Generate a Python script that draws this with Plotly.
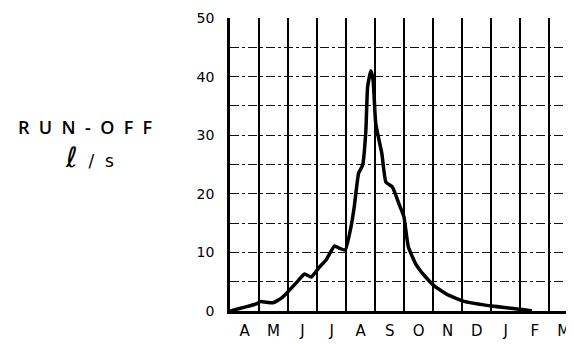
import plotly.graph_objects as go

# months after 1 April (0 = start of April), runoff in l/s
month_pos = [0.0, 0.46, 0.91, 1.05, 1.48, 1.77, 2.0, 2.28, 2.57, 2.8, 3.08, 3.31,
             3.6, 3.77, 3.97, 4.17, 4.28, 4.43, 4.57, 4.68, 4.74, 4.85, 4.93,
             5.02, 5.23, 5.37, 5.59, 5.82, 5.99, 6.14, 6.39, 6.74, 7.08, 7.53,
             8.1, 9.02, 10.0, 10.4]
runoff = [0.0, 0.6, 1.2, 1.6, 1.4, 2.2, 3.3, 4.8, 6.3, 5.8, 7.5, 8.7,
          11.1, 10.7, 10.4, 14.4, 17.8, 23.5, 24.9, 30.8, 38.2, 41.0, 39.4,
          32.0, 26.9, 22.0, 21.2, 18.3, 16.1, 11.0, 8.1, 5.8, 4.1, 2.7,
          1.6, 0.85, 0.3, 0.0]

month_labels = ["A", "M", "J", "J", "A", "S", "O", "N", "D", "J", "F", "M"]
y_ticks = [0, 5, 10, 15, 20, 25, 30, 35, 40, 45, 50]
y_ticktext = ["0", "", "10", "", "20", "", "30", "", "40", "", "50"]

# page body has an 8px margin, so the figure is a bit smaller than the window
W, H = 566, 336
L, R, T, B = 222, 0, 10, 33

fig = go.Figure()
fig.add_trace(go.Scatter(
    x=month_pos, y=runoff, mode="lines",
    line=dict(color="black", width=3.5, shape="spline", smoothing=0.4),
    hoverinfo="skip", showlegend=False,
))

fig.update_layout(
    width=W, height=H,
    margin=dict(l=L, r=R, t=T, b=B),
    paper_bgcolor="white", plot_bgcolor="white",
    font=dict(family="DejaVu Sans", color="black"),
    xaxis=dict(
        range=[0, 11.85],
        tickvals=[i + 0.5 for i in range(12)],
        ticktext=month_labels,
        tickfont=dict(size=15),
        ticks="", showgrid=False, zeroline=False,
        showline=True, linecolor="black", linewidth=2.5,
        ticklabelstandoff=4,
        minor=dict(tickvals=list(range(1, 13)), showgrid=True,
                   gridcolor="black", gridwidth=2),
    ),
    yaxis=dict(
        range=[0, 50],
        tickvals=y_ticks, ticktext=y_ticktext,
        tickfont=dict(size=14),
        ticks="", showgrid=True, gridcolor="#111", gridwidth=1.3,
        griddash="dashdot", zeroline=False,
        showline=True, linecolor="black", linewidth=2.5,
        ticklabelstandoff=10,
    ),
)

pw = W - L - R
ph = H - T - B
# annotation positions given in window pixels (minus the 8px page offset)
fig.add_annotation(
    xref="paper", yref="paper", xanchor="center", yanchor="middle",
    x=(85 - 8 - L) / pw, y=(H - B - (127 - 8)) / ph,
    text="R&nbsp;&nbsp;U&nbsp;&nbsp;N&nbsp;&nbsp;-&nbsp;&nbsp;O&nbsp;&nbsp;F&nbsp;&nbsp;F",
    showarrow=False,
    font=dict(size=18, family="Open Sans", weight=600, color="black"),
)
fig.add_annotation(
    xref="paper", yref="paper", xanchor="center", yanchor="middle",
    x=(89 - 8 - L) / pw, y=(H - B - (157 - 8)) / ph,
    text="<i><span style='font-size:28px'>ℓ</span></i>&nbsp;&nbsp;/&nbsp;&nbsp;s",
    showarrow=False, font=dict(size=17, family="DejaVu Sans", color="black"),
)

fig.write_html("out.html")
